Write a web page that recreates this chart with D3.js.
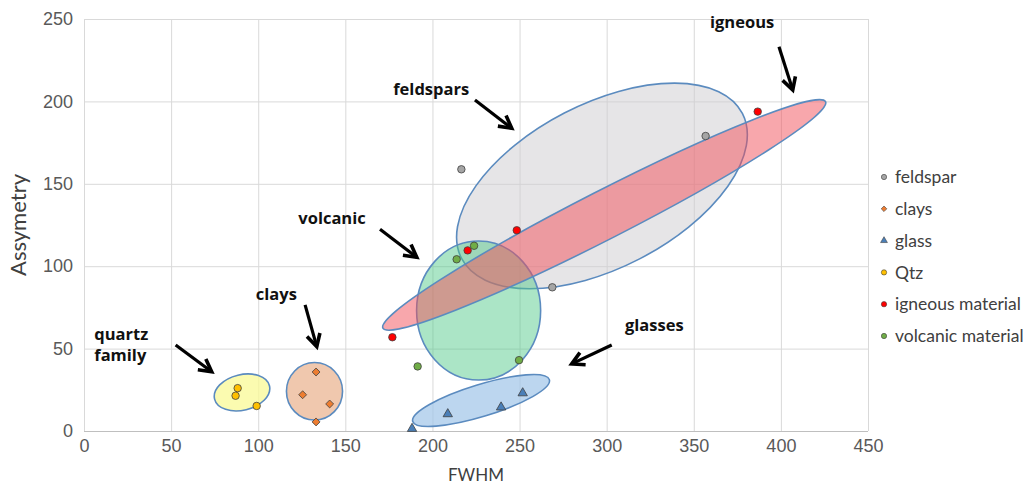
<!DOCTYPE html>
<html>
<head>
<meta charset="utf-8">
<script src="https://cdn.jsdelivr.net/npm/d3@7"></script>
<style>
	body { margin: 0; background: #fff; }
	svg { display: block; font-family: Lato, 'Open Sans', sans-serif; }
	.tick text { fill: #595959; font-size: 18px; }
	.note { font-family: 'Open Sans', sans-serif; font-weight: bold; font-size: 16.5px; fill: #111; }
</style>
</head>
<body>
<svg id="chart" width="1031" height="487"></svg>
<script>
// ___________________________________
// ________ Working with data ________
const series = ['feldspar', 'clays', 'glass', 'Qtz', 'igneous material', 'volcanic material'];
const feldspar = [[216.6, 158.8], [356.8, 179], [268.8, 87.2]];
const clays = [[133.2, 35.8], [125.5, 22], [141, 16.4], [133.2, 5.5]];
const glass = [[188.3, 1.4], [208.8, 10.3], [239.4, 14.4], [251.8, 23]];
const qtz = [[88.2, 26], [87, 21.4], [99.1, 15.2]];
const igneous = [[177, 56.9], [220.2, 109.6], [248.4, 121.8], [386.7, 193.8]];
const volcanic = [[213.9, 104.2], [223.9, 112.4], [191.5, 39.2], [249.7, 43]];
const xTicks = [0, 50, 100, 150, 200, 250, 300, 350, 400, 450];
const yTicks = [0, 50, 100, 150, 200, 250];

// groups drawn by hand over the plot: centre in data units, half axes in x units, tilt in degrees
const groups = [
	{name: 'feldspars', cx: 297.3, cy: 148.7, a: 90.7, b: 47.1, tilt: -27.3},
	{name: 'volcanic', cx: 226.5, cy: 73.1, a: 35.6, b: 39.9, tilt: 0},
	{name: 'igneous', cx: 298.6, cy: 131.1, a: 142.7, b: 13.8, tilt: -27.1},
	{name: 'glasses', cx: 227.9, cy: 18.5, a: 41.0, b: 9.2, tilt: -17},
	{name: 'quartz', cx: 90.7, cy: 23.4, a: 16.2, b: 10.2, tilt: -13.6},
	{name: 'clays', cx: 132.3, cy: 24.1, a: 16.1, b: 16.5, tilt: 0}
];
// labels and arrows, in data units
const notes = [
	{text: ['igneous'], x: 359.3, y: 244.5, from: [398.9, 233.2], to: [406.8, 206.9]},
	{text: ['feldspars'], x: 177.5, y: 203.9, from: [224.4, 200.8], to: [245.5, 183.7]},
	{text: ['volcanic'], x: 123, y: 125.6, from: [169.9, 122.4], to: [191, 105.4]},
	{text: ['clays'], x: 98.6, y: 79.5, from: [126.9, 76.5], to: [133.6, 51.2]},
	{text: ['quartz', 'family'], x: 5.9, y: 55.2, from: [52.6, 52.2], to: [73.3, 36]},
	{text: ['glasses'], x: 310.5, y: 60.7, from: [302.9, 52.2], to: [279.9, 40.7]}
];

// __________________________________
// ________ Working with svg ________
const svg = d3.select('#chart');
const margin = {left: 84, right: 163, top: 19, bottom: 56};
const width = 1031 - margin.left - margin.right;
const height = 487 - margin.top - margin.bottom;

const x = d3.scaleLinear().domain([0, 450]).range([margin.left, margin.left + width]);
const y = d3.scaleLinear().domain([0, 250]).range([margin.top + height, margin.top]);
const unit = x(1) - x(0);

const diamond = d3.symbolDiamond2 || d3.symbolDiamond;
const styles = {
	'feldspar': {fill: '#a5a5a5', shape: d3.symbolCircle, size: 44},
	'clays': {fill: '#ed7d31', shape: diamond, size: 40},
	'glass': {fill: '#4a7fb8', shape: d3.symbolTriangle, size: 38},
	'Qtz': {fill: '#ffc000', shape: d3.symbolCircle, size: 44},
	'igneous material': {fill: '#ff0000', shape: d3.symbolCircle, size: 44},
	'volcanic material': {fill: '#70ad47', shape: d3.symbolCircle, size: 44}
};
const groupFill = {
	feldspars: 'rgba(205,203,208,0.5)',
	volcanic: 'rgba(80,200,135,0.48)',
	igneous: 'rgba(242,80,90,0.5)',
	glasses: 'rgba(160,196,232,0.7)',
	quartz: 'rgba(250,250,150,0.75)',
	clays: 'rgba(232,170,130,0.65)'
};

// grid
svg.append('g')
	.attr('transform', `translate(0,${margin.top + height})`)
	.call(d3.axisBottom(x).tickValues(xTicks).tickSize(-height).tickPadding(8))
	.call(g => g.select('.domain').remove())
	.call(g => g.selectAll('.tick line').attr('stroke', '#d9d9d9'));
svg.append('g')
	.attr('transform', `translate(${margin.left},0)`)
	.call(d3.axisLeft(y).tickValues(yTicks).tickSize(-width).tickPadding(11))
	.call(g => g.select('.domain').remove())
	.call(g => g.selectAll('.tick line').attr('stroke', d => d === 0 ? '#bfbfbf' : '#d9d9d9'));

svg.append('text')
	.attr('transform', `translate(26,${y(125)}) rotate(-90)`)
	.attr('text-anchor', 'middle')
	.style('font-size', '22px').style('fill', '#404040')
	.text('Assymetry');
svg.append('text')
	.attr('x', x(225)).attr('y', 481)
	.attr('text-anchor', 'middle')
	.style('font-size', '17px').style('fill', '#404040')
	.text('FWHM');

// points
const all = [feldspar, clays, glass, qtz, igneous, volcanic];
const points = svg.append('g');
all.forEach((arr, i) => {
	const s = styles[series[i]];
	points.selectAll()
		.data(arr)
		.enter()
		.append('path')
		.attr('d', d3.symbol().type(s.shape).size(s.size))
		.attr('transform', d => `translate(${x(d[0])},${y(d[1])})`)
		.attr('fill', s.fill)
		.attr('stroke', '#404040')
		.attr('stroke-width', 0.8)
})

// hand drawn ellipses
svg.append('g').selectAll()
	.data(groups)
	.enter()
	.append('ellipse')
	.attr('transform', d => `translate(${x(d.cx)},${y(d.cy)}) rotate(${d.tilt})`)
	.attr('rx', d => d.a * unit)
	.attr('ry', d => d.b * unit)
	.attr('fill', d => groupFill[d.name])
	.attr('stroke', '#5b8bbf')
	.attr('stroke-width', 1.6);
points.raise();

// notes
const note = svg.append('g').selectAll()
	.data(notes)
	.enter()
	.append('g');
note.append('text')
	.attr('class', 'note')
	.attr('x', d => x(d.x))
	.attr('y', d => y(d.y))
	.selectAll()
	.data(d => d.text)
	.enter()
	.append('tspan')
	.attr('x', function() { return d3.select(this.parentNode).attr('x') })
	.attr('dy', (d, i) => i > 0 ? '1.25em' : null)
	.text(d => d);
note.append('line')
	.attr('x1', d => x(d.from[0])).attr('y1', d => y(d.from[1]))
	.attr('x2', d => x(d.to[0])).attr('y2', d => y(d.to[1]))
	.attr('stroke', '#000').attr('stroke-width', 3.2);
note.append('path')
	.attr('d', d => {
		const [x1, y1, x2, y2] = [x(d.from[0]), y(d.from[1]), x(d.to[0]), y(d.to[1])];
		const ang = Math.atan2(y2 - y1, x2 - x1);
		const len = 14, spread = 0.5;
		const p1 = [x2 - len * Math.cos(ang - spread), y2 - len * Math.sin(ang - spread)];
		const p2 = [x2 - len * Math.cos(ang + spread), y2 - len * Math.sin(ang + spread)];
		return `M${p1}L${x2},${y2}L${p2}`
	})
	.attr('fill', 'none').attr('stroke', '#000').attr('stroke-width', 3.6)
	.attr('stroke-linejoin', 'miter');

// legend
const legend = svg.append('g').selectAll()
	.data(series)
	.enter()
	.append('g')
	.attr('transform', (d, i) => `translate(884,${177 + i * 31.8})`);
legend.append('path')
	.attr('d', d => d3.symbol().type(styles[d].shape).size(styles[d].shape === d3.symbolCircle ? 22 : 20)())
	.attr('fill', d => styles[d].fill)
	.attr('stroke', '#404040')
	.attr('stroke-width', 0.6);
legend.append('text')
	.attr('x', 11)
	.attr('dy', '0.35em')
	.style('font-size', '17.5px').style('fill', '#404040')
	.text(d => d);
</script>
</body>
</html>
